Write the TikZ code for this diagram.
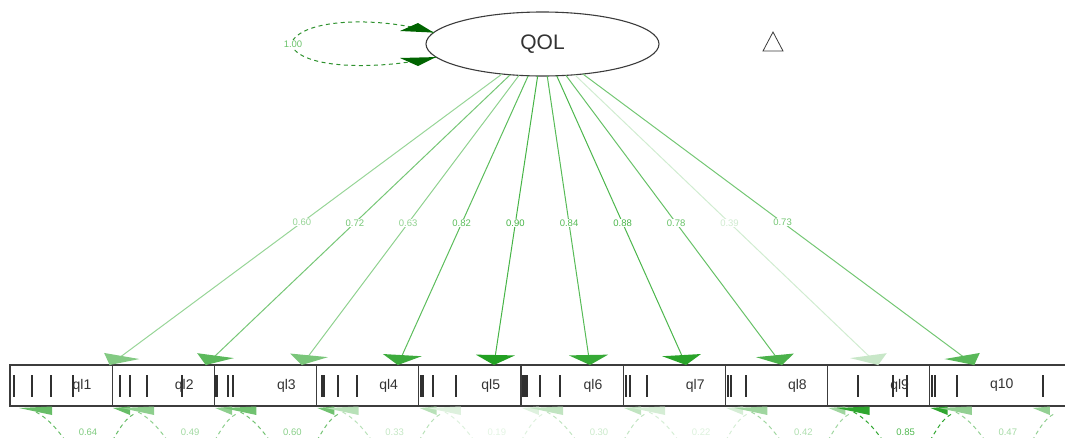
\documentclass[tikz,border=0pt]{standalone}
\usepackage{fontspec}
\setmainfont{Liberation Sans}
\usetikzlibrary{shapes.geometric,calc}
\definecolor{eg}{RGB}{34,160,34}
\definecolor{el}{RGB}{70,180,70}
\definecolor{dkg}{RGB}{0,100,0}
\definecolor{lg}{RGB}{45,145,45}
\definecolor{bx}{RGB}{60,60,60}
\begin{document}
\begin{tikzpicture}[x=1pt,y=-1pt,
  box/.style={draw=bx, line width=1.1pt, fill=white, minimum width=144pt, minimum height=41pt, inner sep=0pt, outer sep=0pt, font=\fontsize{14}{16}\selectfont, text=black!80},
  lat/.style={ellipse, draw=bx, line width=1.1pt, fill=white, minimum width=233pt, minimum height=64pt, inner sep=0pt, outer sep=0pt, font=\fontsize{21}{24}\selectfont, text=black!80},
  edgeln/.style={line width=1pt},
  lbl/.style={fill=white, inner sep=0.6pt, font=\fontsize{9.5}{11}\selectfont},
  tickln/.style={draw=bx!80!black, line width=1.1pt},
  resloop/.style={dash pattern=on 4pt off 3.5pt, line width=1pt},
]
\useasboundingbox (0,0) rectangle (1065,437);
\clip (0,0) rectangle (1065,437);

% latent
\node[lat] (QOL) at (542.5,44) {QOL};

% manifest boxes with threshold ticks
\foreach \i/\lab/\tk in {1/ql1/{14,32,51,73}, 2/ql2/{120,130,147,182}, 3/ql3/{215,217,228,233},
  4/ql4/{322,324,338,357}, 5/ql5/{421,423,433,456}, 6/ql6/{523,525,527,540,560},
  7/ql7/{626,630,647}, 8/ql8/{728,731,746}, 9/ql9/{858,893,907}, 10/q10/{932,935,957,1043}} {
  \pgfmathsetmacro\c{82+102.2*(\i-1)}
  \node[box] (b\i) at (\c,385.5) {\lab};
  \foreach \t in \tk { \draw[tickln] (\t,375) -- (\t,397); }
}

% loadings
\foreach \i/\ld/\op in {1/0.60/56, 2/0.72/74, 3/0.63/60, 4/0.82/88, 5/0.90/100,
  6/0.84/91, 7/0.88/97, 8/0.78/82, 9/0.39/25, 10/0.73/75} {
  \pgfmathsetmacro\c{82+102.2*(\i-1)}
  \draw[edgeln, draw=el!\op!white] (QOL) -- (b\i)
    node[lbl, pos=0.51, text=el!\op!white] {\ld};
  \pgfmathsetmacro\tx{542.5+(\c-542.5)*0.93997}
  \pgfmathsetmacro\dxp{(\c-542.5)/280}
  \pgfmathsetmacro\len{sqrt(\dxp*\dxp+3.415*3.415)}
  \pgfmathsetmacro\ux{\dxp/\len}
  \pgfmathsetmacro\uy{3.415/\len}
  \pgfmathsetmacro\ax{\tx+2.8*(-10*\ux-7*\uy)}
  \pgfmathsetmacro\ay{365-10*\uy+7*\ux}
  \pgfmathsetmacro\bx{\tx+2.8*(-10*\ux+7*\uy)}
  \pgfmathsetmacro\by{365-10*\uy-7*\ux}
  \fill[eg!\op!white] (\tx,365) -- (\ax,\ay) -- (\bx,\by) -- cycle;
}

% residual variances
\foreach \i/\rs/\op in {1/0.64/69, 2/0.49/51, 3/0.60/64, 4/0.33/32, 5/0.19/15,
  6/0.30/28, 7/0.22/19, 8/0.42/43, 9/0.85/94, 10/0.47/49} {
  \coordinate (s\i) at (b\i.south west);
  \draw[resloop, draw=eg!\op!white] ($(s\i)+(26,6)$) .. controls ($(s\i)+(55,22)$) and ($(s\i)+(60,54)$) .. ($(s\i)+(80,54)$)
     .. controls ($(s\i)+(100,54)$) and ($(s\i)+(105,18)$) .. ($(s\i)+(124,8)$);
  \fill[eg!\op!white] ($(s\i)+(9,2)$) -- ($(s\i)+(42,0.5)$) -- ($(s\i)+(42,9)$) -- cycle;
  \fill[eg!\op!white] ($(s\i)+(103,2)$) -- ($(s\i)+(120,0.5)$) -- ($(s\i)+(120,9)$) -- cycle;
  \node[font=\fontsize{9.5}{11}\selectfont, text=el!\op!white, inner sep=0pt] at ($(b\i.south)+(6,26)$) {\rs};
}

% latent variance loop
\draw[resloop, draw=lg] (QOL.174) .. controls (380,16) and (300,18) .. (291,44)
   .. controls (300,70) and (380,70) .. (QOL.187);
\fill[dkg] (QOL.174) -- (400,31) -- (418,23) -- cycle;
\fill[dkg] (QOL.187) -- (400,58) -- (418,66) -- cycle;
\node[lbl, text=el!80!white] at (293,44) {1.00};

% intercept triangle
\draw[bx, line width=0.8pt] (773,32) -- (763,51) -- (783,51) -- cycle;
\end{tikzpicture}
\end{document}
